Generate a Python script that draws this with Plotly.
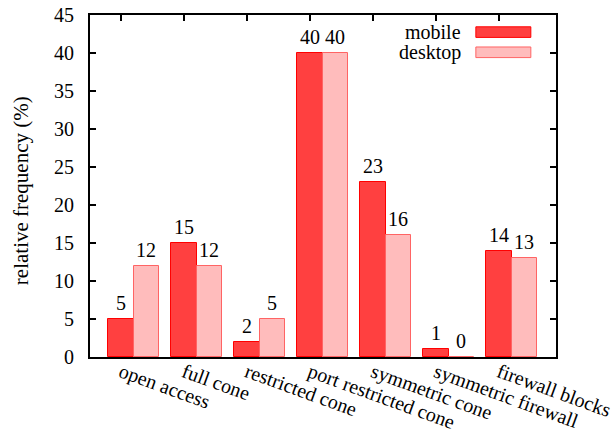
import plotly.graph_objects as go

categories = ["open access", "full cone", "restricted cone", "port restricted cone",
              "symmetric cone", "symmetric firewall", "firewall blocks"]
mobile = [5, 15, 2, 40, 23, 1, 14]
desktop = [12, 12, 5, 40, 16, 0, 13]
y_ticks = [0, 5, 10, 15, 20, 25, 30, 35, 40, 45]
series_names = ["mobile", "desktop"]

FONT = "Liberation Serif, Times New Roman, serif"
MOB_FILL, MOB_LINE = "#ff4040", "#ff0000"
DES_FILL, DES_LINE = "#ffbcbc", "#ff6464"
BW = 0.4

idx = list(range(len(categories)))

fig = go.Figure()
fig.add_trace(go.Bar(x=idx, y=mobile, width=BW, offset=-BW / 2, name=series_names[0],
                     marker=dict(color=MOB_FILL, line=dict(color=MOB_LINE, width=1)),
                     showlegend=False))
fig.add_trace(go.Bar(x=idx, y=desktop, width=BW, offset=BW / 2, name=series_names[1],
                     marker=dict(color=DES_FILL, line=dict(color=DES_LINE, width=1)),
                     showlegend=False))

# value labels
for i in idx:
    for off, vals in ((0.0, mobile), (BW, desktop)):
        fig.add_annotation(x=i + off, y=vals[i], text=str(vals[i]), showarrow=False,
                           xanchor="center", yanchor="bottom", yshift=3,
                           font=dict(family=FONT, size=20, color="black"))

# legend (gnuplot style: text left of swatch)
legend_rows = [(series_names[0], MOB_FILL, MOB_LINE, 0.950),
               (series_names[1], DES_FILL, DES_LINE, 0.891)]
for name, fill, line, yc in legend_rows:
    fig.add_annotation(xref="paper", yref="paper", x=0.800, y=yc, text=name,
                       showarrow=False, xanchor="right", yanchor="middle",
                       font=dict(family=FONT, size=20, color="black"))
    fig.add_shape(type="rect", xref="paper", yref="paper", x0=0.828, x1=0.946,
                  y0=yc - 0.0155, y1=yc + 0.0155, fillcolor=fill,
                  line=dict(color=line, width=1))

# y axis title
fig.add_annotation(xref="paper", yref="paper", x=-0.148, y=0.485,
                   text="relative frequency (%)", textangle=-90, showarrow=False,
                   xanchor="center", yanchor="middle",
                   font=dict(family=FONT, size=21, color="black"))

fig.update_layout(
    width=615, height=432,
    margin=dict(l=90, r=59, t=15, b=75, autoexpand=False),
    plot_bgcolor="white", paper_bgcolor="white",
    font=dict(family=FONT, size=20, color="black"),
    barmode="overlay", bargap=0,
    xaxis=dict(range=[-0.492, 6.905], tickmode="array", tickvals=idx,
               ticktext=categories, tickangle=20, ticks="", showgrid=False,
               zeroline=False, showline=True, linecolor="black", linewidth=2,
               mirror=True, ticklabelstandoff=-6, automargin=False,
               tickfont=dict(family=FONT, size=20, color="black")),
    xaxis2=dict(overlaying="x", matches="x", side="top", tickmode="array",
                tickvals=idx, ticks="inside", ticklen=6, tickwidth=1.5,
                tickcolor="black", showticklabels=False, showgrid=False,
                zeroline=False, showline=False, automargin=False),
    yaxis=dict(range=[0, 45], tickmode="array", tickvals=y_ticks, ticks="inside",
               ticklen=6, tickwidth=1.5, tickcolor="black", showgrid=False,
               zeroline=False, showline=True, linecolor="black", linewidth=2,
               mirror="ticks", ticklabelstandoff=10, automargin=False,
               tickfont=dict(family=FONT, size=20, color="black")),
)
# invisible point to activate the top axis
fig.add_trace(go.Scatter(x=[0], y=[0], xaxis="x2", mode="markers",
                         marker=dict(opacity=0), showlegend=False, hoverinfo="skip"))

post = (
    "document.body.style.margin='0';"
    "var s=document.createElement('style');"
    "s.textContent='.js-plotly-plot svg text{font-family:\"Liberation Serif\",\"Times New Roman\",serif !important;}';"
    "document.head.appendChild(s);"
)
fig.write_html("out.html", config={"displayModeBar": False}, post_script=post)
